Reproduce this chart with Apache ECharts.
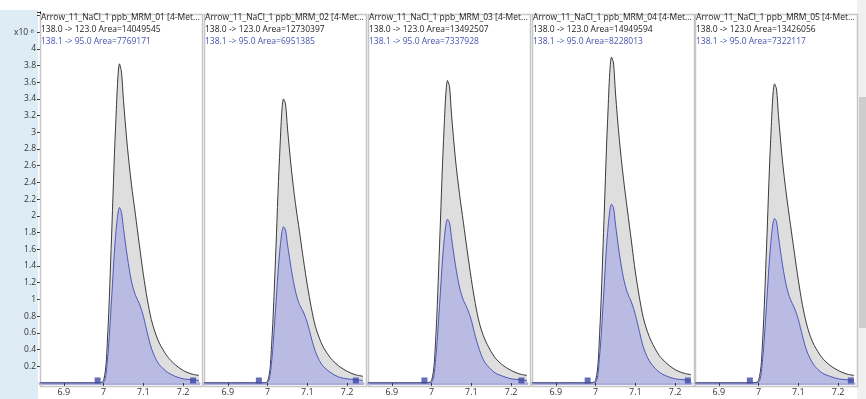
<!DOCTYPE html>
<html>
<head>
<meta charset="utf-8">
<script src="https://cdn.jsdelivr.net/npm/echarts@6/dist/echarts.min.js"></script>
<style>
  html, body { margin: 0; padding: 0; background: #fff; }
  #chart { width: 866px; height: 399px; }
</style>
</head>
<body>
<div id="chart"></div>
<script>
// retention time points (min)
let rt = [6.84, 6.98, 7.0, 7.01, 7.02, 7.03, 7.04, 7.045, 7.05, 7.06, 7.07, 7.08, 7.09, 7.1, 7.11, 7.12, 7.13, 7.14, 7.16, 7.18, 7.2, 7.22, 7.24];

let sampleNames = [
  "Arrow_11_NaCl_1 ppb_MRM_01 [4-Met...",
  "Arrow_11_NaCl_1 ppb_MRM_02 [4-Met...",
  "Arrow_11_NaCl_1 ppb_MRM_03 [4-Met...",
  "Arrow_11_NaCl_1 ppb_MRM_04 [4-Met...",
  "Arrow_11_NaCl_1 ppb_MRM_05 [4-Met...",
];
let quantTransition = "138.0 -> 123.0";
let qualTransition = "138.1 -> 95.0";
let quantAreas = [14049545, 12730397, 13492507, 14949594, 13426056];
let qualAreas = [7769171, 6951385, 7337928, 8228013, 7322117];

// intensities x10^6
let quant01 = [0, 0, 0.03, 0.55, 1.75, 3.05, 3.82, 3.72, 3.38, 2.82, 2.38, 2.02, 1.65, 1.3, 1.0, 0.76, 0.6, 0.48, 0.32, 0.22, 0.15, 0.11, 0.09];
let qual01 = [0, 0, 0.01, 0.3, 1.0, 1.75, 2.1, 2.04, 1.85, 1.5, 1.22, 1.05, 0.95, 0.8, 0.6, 0.42, 0.3, 0.22, 0.13, 0.08, 0.05, 0.04, 0.03];
let quant02 = [0, 0, 0.02, 0.45, 1.5, 2.7, 3.4, 3.34, 3.05, 2.55, 2.15, 1.82, 1.48, 1.17, 0.9, 0.68, 0.54, 0.43, 0.29, 0.2, 0.14, 0.1, 0.08];
let qual02 = [0, 0, 0.01, 0.25, 0.88, 1.55, 1.87, 1.83, 1.66, 1.35, 1.1, 0.94, 0.85, 0.72, 0.54, 0.38, 0.27, 0.2, 0.12, 0.07, 0.05, 0.04, 0.03];
let quant03 = [0, 0, 0.03, 0.5, 1.65, 2.9, 3.62, 3.55, 3.22, 2.68, 2.27, 1.92, 1.57, 1.24, 0.95, 0.72, 0.57, 0.46, 0.3, 0.21, 0.15, 0.11, 0.09];
let qual03 = [0, 0, 0.01, 0.28, 0.93, 1.63, 1.96, 1.92, 1.74, 1.41, 1.15, 0.99, 0.89, 0.75, 0.56, 0.4, 0.28, 0.21, 0.12, 0.08, 0.05, 0.04, 0.03];
let quant04 = [0, 0, 0.03, 0.58, 1.8, 3.12, 3.9, 3.83, 3.47, 2.9, 2.45, 2.07, 1.7, 1.33, 1.03, 0.78, 0.62, 0.5, 0.33, 0.23, 0.16, 0.12, 0.1];
let qual04 = [0, 0, 0.01, 0.32, 1.03, 1.79, 2.14, 2.1, 1.9, 1.54, 1.26, 1.08, 0.97, 0.82, 0.62, 0.43, 0.31, 0.23, 0.13, 0.08, 0.05, 0.04, 0.03];
let quant05 = [0, 0, 0.03, 0.5, 1.63, 2.87, 3.58, 3.52, 3.2, 2.66, 2.25, 1.9, 1.56, 1.23, 0.94, 0.72, 0.56, 0.45, 0.3, 0.21, 0.15, 0.11, 0.09];
let qual05 = [0, 0, 0.01, 0.28, 0.94, 1.64, 1.97, 1.93, 1.75, 1.42, 1.16, 1.0, 0.9, 0.76, 0.57, 0.4, 0.29, 0.21, 0.12, 0.08, 0.05, 0.04, 0.03];

// integration start / end markers
let peakStart = [6.985, 6.978, 6.982, 6.98, 6.978];
let peakEnd = [7.225, 7.222, 7.226, 7.232, 7.232];

let rtTicks = [6.9, 7, 7.1, 7.2];
let quantSets = [quant01, quant02, quant03, quant04, quant05];
let qualSets = [qual01, qual02, qual03, qual04, qual05];

let panelLeft = [40, 204, 368, 532, 695];
let panelWidth = 159;
let plotTop = 12;
let plotHeight = 371;
let font = "'Open Sans', 'Noto Sans', sans-serif";

let grids = [], xAxes = [], yAxes = [], series = [], graphics = [];

// left strip and scrollbar
graphics.push({ type: "rect", left: 0, top: 10, shape: { width: 38, height: 389 }, style: { fill: "#deecf6" }, z: -10 });
graphics.push({ type: "rect", left: 857, top: 0, shape: { width: 9, height: 399 }, style: { fill: "#f0f0f0" }, z: -10 });
graphics.push({ type: "rect", left: 859, top: 97, shape: { width: 7, height: 231 }, style: { fill: "#cdcdcd" }, z: -9 });

for (let i = 0; i < 5; i++) {
  let l = panelLeft[i];
  grids.push({ left: l, top: plotTop, width: panelWidth, height: plotHeight });
  xAxes.push({
    gridIndex: i,
    type: "value",
    min: 6.84,
    max: 7.24,
    axisLine: { lineStyle: { color: "#a9aedb", width: 3 } },
    axisTick: { customValues: rtTicks, length: 4, lineStyle: { color: "#333" } },
    axisLabel: {
      customValues: rtTicks,
      fontSize: 9,
      color: "#333",
      margin: 5,
      fontFamily: font,
      formatter: (v) => String(parseFloat(v.toFixed(1))),
    },
    splitLine: { show: false },
  });
  yAxes.push({
    gridIndex: i,
    type: "value",
    min: 0,
    max: 4.44,
    interval: 0.2,
    show: i === 0,
    axisLine: { show: true, lineStyle: { color: "#000", width: 1 } },
    axisTick: { show: true, length: 3, lineStyle: { color: "#333" } },
    axisLabel: {
      fontSize: 8.5,
      color: "#333",
      margin: 4,
      fontFamily: font,
      showMinLabel: false,
      formatter: (v) => (v > 4.05 ? "" : String(parseFloat(v.toFixed(1)))),
    },
    splitLine: { show: false },
  });

  series.push({
    type: "line",
    xAxisIndex: i,
    yAxisIndex: i,
    data: rt.map((x, k) => [x, quantSets[i][k]]),
    smooth: 0.3,
    symbol: "none",
    lineStyle: { color: "#3a3a3a", width: 1 },
    areaStyle: { color: "#dedede", opacity: 1 },
    z: 2,
  });
  series.push({
    type: "line",
    xAxisIndex: i,
    yAxisIndex: i,
    data: rt.map((x, k) => [x, qualSets[i][k]]),
    smooth: 0.3,
    symbol: "none",
    lineStyle: { color: "#4d57b8", width: 1 },
    areaStyle: { color: "#babbe2", opacity: 1 },
    z: 3,
  });
  series.push({
    type: "scatter",
    xAxisIndex: i,
    yAxisIndex: i,
    data: [[peakStart[i], 0.03], [peakEnd[i], 0.03]],
    symbol: "rect",
    symbolSize: [6, 6],
    itemStyle: { color: "#3e48a4" },
    z: 4,
  });

  // panel frame
  graphics.push({
    type: "rect",
    left: l - 2,
    top: plotTop,
    shape: { width: panelWidth + 3, height: plotHeight + 1 },
    style: { fill: "none", stroke: "#c6c6c6", lineWidth: 1.5 },
    z: 1,
  });
  // header text
  let lines = [
    [sampleNames[i], "#222"],
    [quantTransition + " Area=" + quantAreas[i], "#222"],
    [qualTransition + " Area=" + qualAreas[i], "#4652b0"],
  ];
  lines.forEach((ln, k) => {
    graphics.push({
      type: "text",
      left: l + 1,
      top: plotTop + 1 + 12 * k,
      style: { text: ln[0], fontSize: 8.5, fill: ln[1], fontFamily: font },
      z: 10,
    });
  });
}

// exponent label of y axis
graphics.push({
  type: "text",
  left: 14,
  top: 28,
  style: {
    text: "{b|x10 }{s|6}",
    rich: {
      b: { fontSize: 8.5, fill: "#333", fontFamily: font, padding: [4, 0, 0, 0] },
      s: { fontSize: 6, fill: "#333", fontFamily: font },
    },
  },
  z: 10,
});

let chart = echarts.init(document.getElementById("chart"));
chart.setOption({
  animation: false,
  backgroundColor: "#fff",
  grid: grids,
  xAxis: xAxes,
  yAxis: yAxes,
  series: series,
  graphic: graphics,
});
</script>
</body>
</html>
